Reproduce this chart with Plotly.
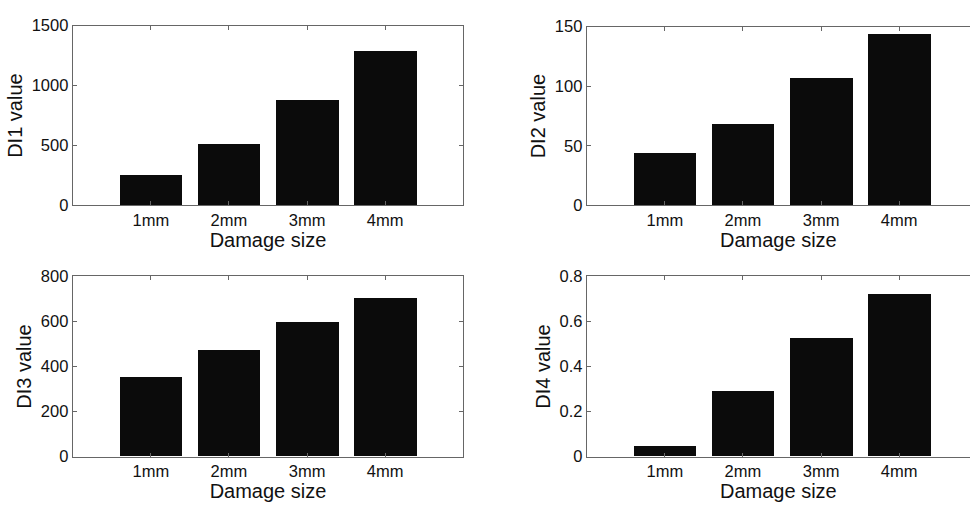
import plotly.graph_objects as go

categories = ["1mm", "2mm", "3mm", "4mm"]
positions = [1, 2, 3, 4]
di1 = [260, 515, 885, 1290]
di2 = [44, 69, 107, 144]
di3 = [352, 472, 594, 702]
di4 = [0.043, 0.29, 0.525, 0.72]

y_titles = ["DI1 value", "DI2 value", "DI3 value", "DI4 value"]
y_ranges = [[0, 1500], [0, 150], [0, 800], [0, 0.8]]
y_ticks = [[0, 500, 1000, 1500], [0, 50, 100, 150], [0, 200, 400, 600, 800], [0, 0.2, 0.4, 0.6, 0.8]]
y_ticktext = [["0", "500", "1000", "1500"], ["0", "50", "100", "150"],
              ["0", "200", "400", "600", "800"], ["0", "0.2", "0.4", "0.6", "0.8"]]

W, H = 970, 509
fig = go.Figure()

# pixel boxes (left, right, top, bottom)
boxes = [(72.7, 463.3, 17.3, 203.7), (586.7, 970, 18.3, 203.7),
         (72.7, 463.3, 277.3, 464), (586.7, 970, 277.3, 464)]
unit = (463.3 - 72.7) / 5.0
series = [di1, di2, di3, di4]
axis_col = "#666666"
font = "Liberation Sans, Arial, sans-serif"

for i, (vals, box) in enumerate(zip(series, boxes)):
    xa = "x" if i == 0 else f"x{i+1}"
    ya = "y" if i == 0 else f"y{i+1}"
    fig.add_trace(go.Bar(x=positions, y=vals, width=0.8, marker=dict(color="#0b0b0b", line=dict(width=0)),
                         xaxis=xa, yaxis=ya, showlegend=False))
    l, r, t, b = box
    xmax = (r - l) / unit
    right_cut = i in (1, 3)
    xkey = "xaxis" if i == 0 else f"xaxis{i+1}"
    ykey = "yaxis" if i == 0 else f"yaxis{i+1}"
    fig.layout[xkey] = dict(
        domain=[l / W, r / W], anchor=ya, range=[0, xmax],
        tickvals=positions, ticktext=categories, ticks="inside", ticklen=4, tickcolor=axis_col,
        showline=True, linecolor=axis_col, linewidth=1, mirror="ticks",
        showgrid=False, zeroline=False,
        tickfont=dict(family=font, size=16.5, color="#111"),
        title=dict(text="Damage size", font=dict(family=font, size=20, color="#111"), standoff=0),
        fixedrange=True,
    )
    fig.layout[ykey] = dict(
        domain=[1 - b / H, 1 - t / H], anchor=xa, range=y_ranges[i],
        tickvals=y_ticks[i], ticktext=y_ticktext[i], ticks="inside", ticklen=4, tickcolor=axis_col,
        showline=True, linecolor=axis_col, linewidth=1, mirror=False if right_cut else "ticks",
        showgrid=False, zeroline=False,
        tickfont=dict(family=font, size=16.5, color="#111"),
        title=dict(text=y_titles[i], font=dict(family=font, size=20, color="#111"), standoff=3),
        fixedrange=True,
    )

fig.update_layout(width=W, height=H, margin=dict(l=0, r=0, t=0, b=0),
                  paper_bgcolor="white", plot_bgcolor="white", bargap=0)
fig.write_html("out.html")
